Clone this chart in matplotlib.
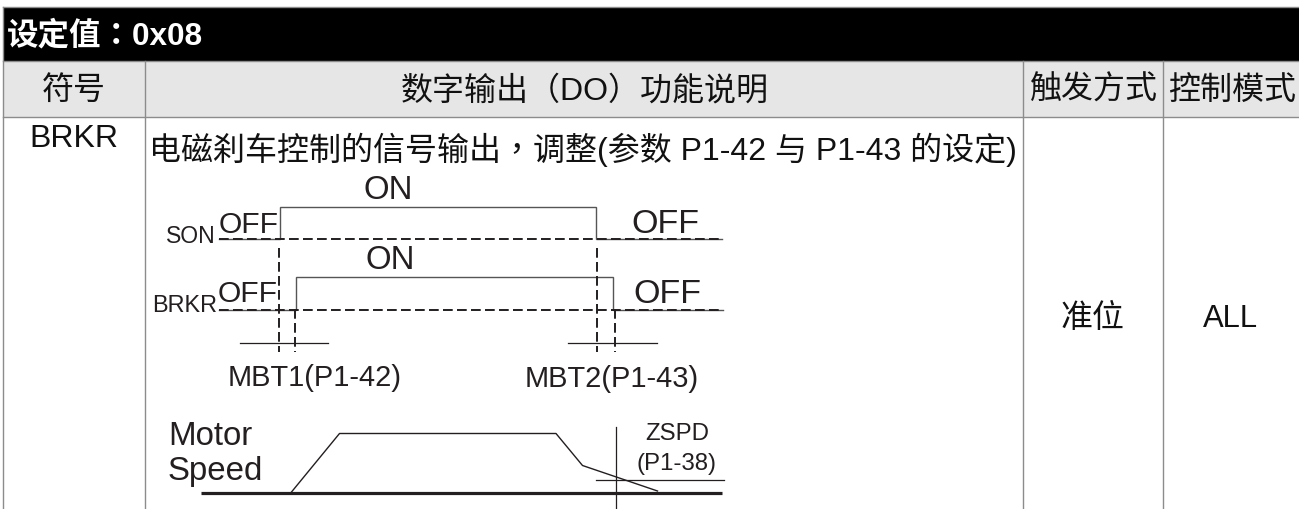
import matplotlib
matplotlib.use("Agg")
import matplotlib.pyplot as plt

plt.rcParams["font.family"] = ["Liberation Sans", "Noto Sans CJK TC", "DejaVu Sans"]

WIDTH, HEIGHT = 1299, 510

# table layout, in image pixels
col_lines = [3.5, 145.5, 1023.5, 1163.5]
title = "设定值：0x08"
header_labels = ["符号", "数字输出（DO）功能说明", "触发方式", "控制模式"]
header_x = [74, 585, 1093, 1232]
row_cells = ["BRKR", "准位", "ALL"]
row_cell_x = [74, 1093, 1231]
row_cell_y = [139, 319, 319]
description = "电磁刹车控制的信号输出，调整(参数 P1-42 与 P1-43 的设定)"

# SON / BRKR timing traces
son_x = [219, 280.5, 280.5, 596.5, 596.5, 722]
son_y = [240, 240, 207.5, 207.5, 240, 240]
brkr_x = [219, 296.5, 296.5, 613.5, 613.5, 723]
brkr_y = [310.5, 310.5, 277.5, 277.5, 310.5, 310.5]

# dashed guides: x, y start, y end
guides_x = [279, 295.5, 597, 615]
guides_top = [249, 310, 249, 310]
guides_bottom = [353, 353, 353, 353]

# motor speed curve
speed_x = [291.5, 339.5, 556, 582.5, 657.5]
speed_y = [493, 434.5, 434.5, 466.5, 492]


def px(size):
    return size * 72 / 100


def main() -> None:
    fig = plt.figure(figsize=(WIDTH / 100, HEIGHT / 100), dpi=100)
    ax = fig.add_axes([0, 0, 1, 1])
    ax.set_xlim(0, WIDTH)
    ax.set_ylim(HEIGHT, 0)
    ax.axis("off")

    # table background
    ax.fill_between([col_lines[0], WIDTH], 7.5, 62, color="black", lw=0)
    ax.fill_between([col_lines[0], WIDTH], 62, 118, color="#e6e6e6", lw=0)
    grid = "#8c8c8c"
    ax.plot([col_lines[0], WIDTH], [7.5, 7.5], color=grid, lw=1)
    ax.plot([col_lines[0], WIDTH], [62, 62], color=grid, lw=1)
    ax.plot([col_lines[0], WIDTH], [118, 118], color=grid, lw=1)
    ax.plot([col_lines[0], col_lines[0]], [7.5, HEIGHT], color=grid, lw=1)
    for x in col_lines[1:]:
        ax.plot([x, x], [62, HEIGHT], color=grid, lw=1)

    ax.text(7, 36, title, color="white", fontsize=px(31.5), fontweight="bold",
            ha="left", va="center")
    for label, x in zip(header_labels, header_x):
        ax.text(x, 91, label, color="#111111", fontsize=px(32), ha="center", va="center")
    for label, x, y in zip(row_cells, row_cell_x, row_cell_y):
        ax.text(x, y, label, color="#111111", fontsize=px(32 if label != "ALL" else 31),
                ha="center", va="center")
    ax.text(149, 150, description, color="#111111", fontsize=px(32), ha="left", va="center")

    # timing diagram
    ink = "#231f20"
    dash = (0, (5, 2.2))
    ax.plot(son_x, son_y, color="#555555", lw=1.0, solid_joinstyle="miter")
    ax.plot(brkr_x, brkr_y, color="#555555", lw=1.0, solid_joinstyle="miter")
    ax.plot([son_x[0], son_x[-1]], [son_y[0], son_y[-1]], color=ink, lw=1.4, ls=dash)
    ax.plot([brkr_x[0], brkr_x[-1]], [brkr_y[0], brkr_y[-1]], color=ink, lw=1.4, ls=dash)
    for x, top, bottom in zip(guides_x, guides_top, guides_bottom):
        ax.plot([x, x], [top, bottom], color=ink, lw=1.4, ls=dash)
    ax.plot([240, 328], [344, 344], color=ink, lw=0.9)
    ax.plot([568, 657], [344, 344], color=ink, lw=0.9)

    ax.plot([201, 722], [493.5, 493.5], color=ink, lw=2.3, solid_capstyle="butt")
    ax.plot(speed_x, speed_y, color=ink, lw=1.0)
    ax.plot([616, 616], [428, HEIGHT], color=ink, lw=0.9)
    ax.plot([596, 724], [480.5, 480.5], color=ink, lw=0.9)

    notes = [
        ("ON", 388, 191, 33, "center"),
        ("ON", 390, 261, 33, "center"),
        ("OFF", 249, 225, 30, "center"),
        ("OFF", 248, 294, 30, "center"),
        ("OFF", 665, 225, 34, "center"),
        ("OFF", 667, 295, 34, "center"),
        ("SON", 191, 237, 23, "center"),
        ("BRKR", 185, 306, 23.5, "center"),
        ("MBT1(P1-42)", 315, 378, 29, "center"),
        ("MBT2(P1-43)", 612, 379, 29, "center"),
        ("Motor", 168, 437, 33, "left"),
        ("Speed", 168, 472, 33, "left"),
        ("ZSPD", 677, 434, 24, "center"),
        ("(P1-38)", 677, 464, 24, "center"),
    ]
    for label, x, y, size, ha in notes:
        ax.text(x, y, label, color=ink, fontsize=px(size), ha=ha, va="center")

    fig.savefig("out.png", dpi=100)


if __name__ == "__main__":
    main()
